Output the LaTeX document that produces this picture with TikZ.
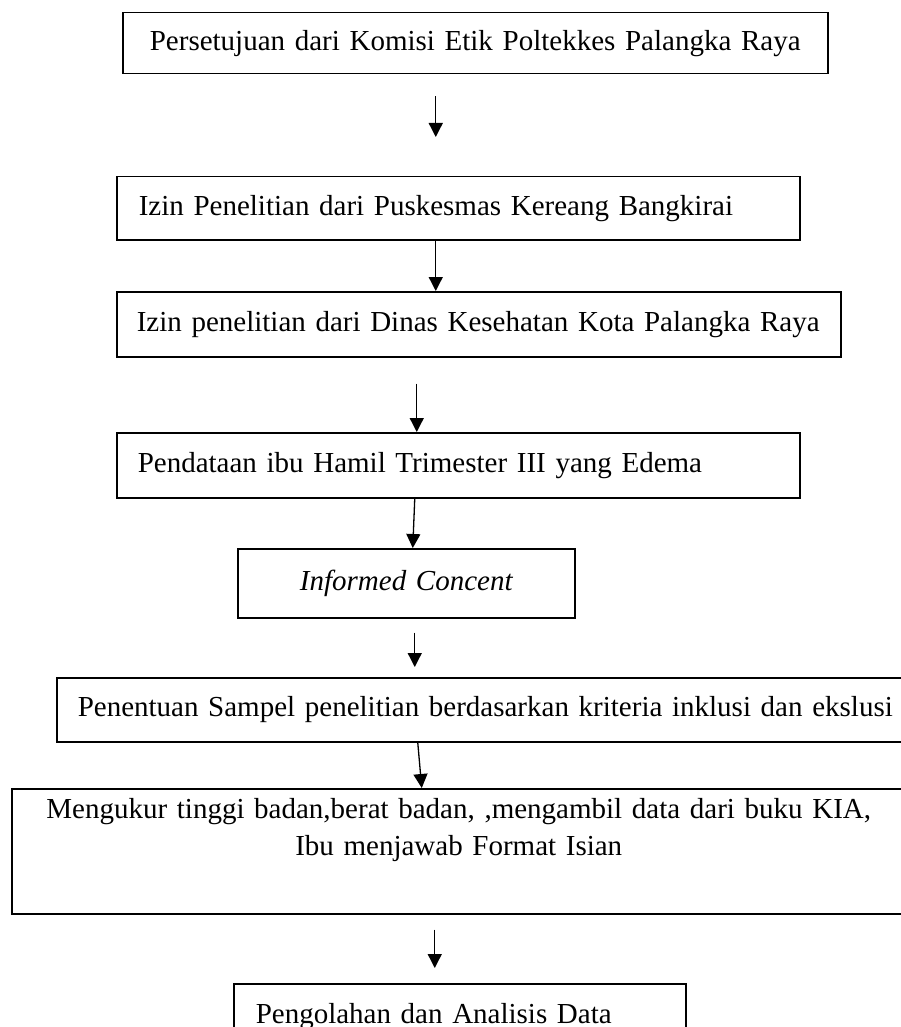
\documentclass[tikz,border=0pt]{standalone}
\usepackage{fontspec}
\setmainfont{Liberation Serif}
\usetikzlibrary{arrows.meta}
\setlength{\parindent}{0pt}

\begin{document}
\begin{tikzpicture}[x=1pt,y=-1pt,>={Triangle[width=14pt,length=14pt]},
  kotak/.style={draw,line width=1.5pt,anchor=north west,inner ysep=0pt,
    font=\fontsize{29}{37}\selectfont},
  satubaris/.style={text height=20pt,text depth=6pt},
  panah/.style={->,line width=1.3pt}]
  \useasboundingbox (0,0) rectangle (901,1027);
  \clip (0,0) rectangle (901,1027);
  \node[kotak,satubaris,inner xsep=0pt,text width=705pt,align=center,
    minimum height=61pt] (setuju) at (122,12)
    {Persetujuan dari Komisi Etik Poltekkes Palangka Raya};
  \node[kotak,satubaris,inner xsep=22pt,text width=639pt,align=left,
    minimum height=63pt] (puskesmas) at (116,176)
    {Izin Penelitian dari Puskesmas Kereang Bangkirai};
  \node[kotak,satubaris,inner xsep=20pt,text width=684pt,align=left,
    minimum height=65pt] (dinkes) at (116,291)
    {\mbox{Izin penelitian dari Dinas Kesehatan Kota Palangka Raya}};
  \node[kotak,satubaris,inner xsep=21pt,text width=641pt,align=left,
    minimum height=65pt] (pendataan) at (116,432)
    {Pendataan ibu Hamil Trimester III yang Edema};
  \node[kotak,satubaris,inner xsep=0pt,text width=337pt,align=center,
    minimum height=69pt] (informed) at (237,548) {\itshape Informed Concent};
  \node[kotak,satubaris,inner xsep=21pt,text width=818pt,align=left,
    minimum height=64pt] (sampel) at (56,677)
    {Penentuan Sampel penelitian berdasarkan kriteria inklusi dan ekslusi};
  \node[kotak,inner xsep=0pt,inner ysep=10pt,text width=894pt,align=center,
    text depth=85pt] (ukur) at (11,788)
    {Mengukur tinggi badan,berat badan, ,mengambil data dari buku KIA,\\
     Ibu menjawab Format Isian};
  \node[kotak,satubaris,inner xsep=22pt,inner ysep=20pt,text width=408pt,
    align=left] (olah) at (233,983) {Pengolahan dan Analisis Data};

  \draw[panah,shorten <=22pt,shorten >=39pt] ([xshift=-39.5pt]setuju.south)
    -- ([xshift=-22.5pt]puskesmas.north);
  \draw[panah] ([xshift=-22.5pt]puskesmas.south) -- ([xshift=-43pt]dinkes.north);
  \draw[panah,shorten <=26pt] ([xshift=-62pt]dinkes.south)
    -- ([xshift=-41.5pt]pendataan.north);
  \draw[panah] ([xshift=-43.5pt]pendataan.south) -- ([xshift=6.5pt]informed.north);
  \draw[panah,shorten <=14pt,shorten >=10pt] ([xshift=8.5pt]informed.south)
    -- ([xshift=-72pt]sampel.north);
  \draw[panah] ([xshift=-69pt]sampel.south) -- ([xshift=-37pt]ukur.north);
  \draw[panah,shorten <=15pt,shorten >=15pt] ([xshift=-24pt]ukur.south)
    -- ([xshift=-25pt]olah.north);
\end{tikzpicture}
\end{document}
